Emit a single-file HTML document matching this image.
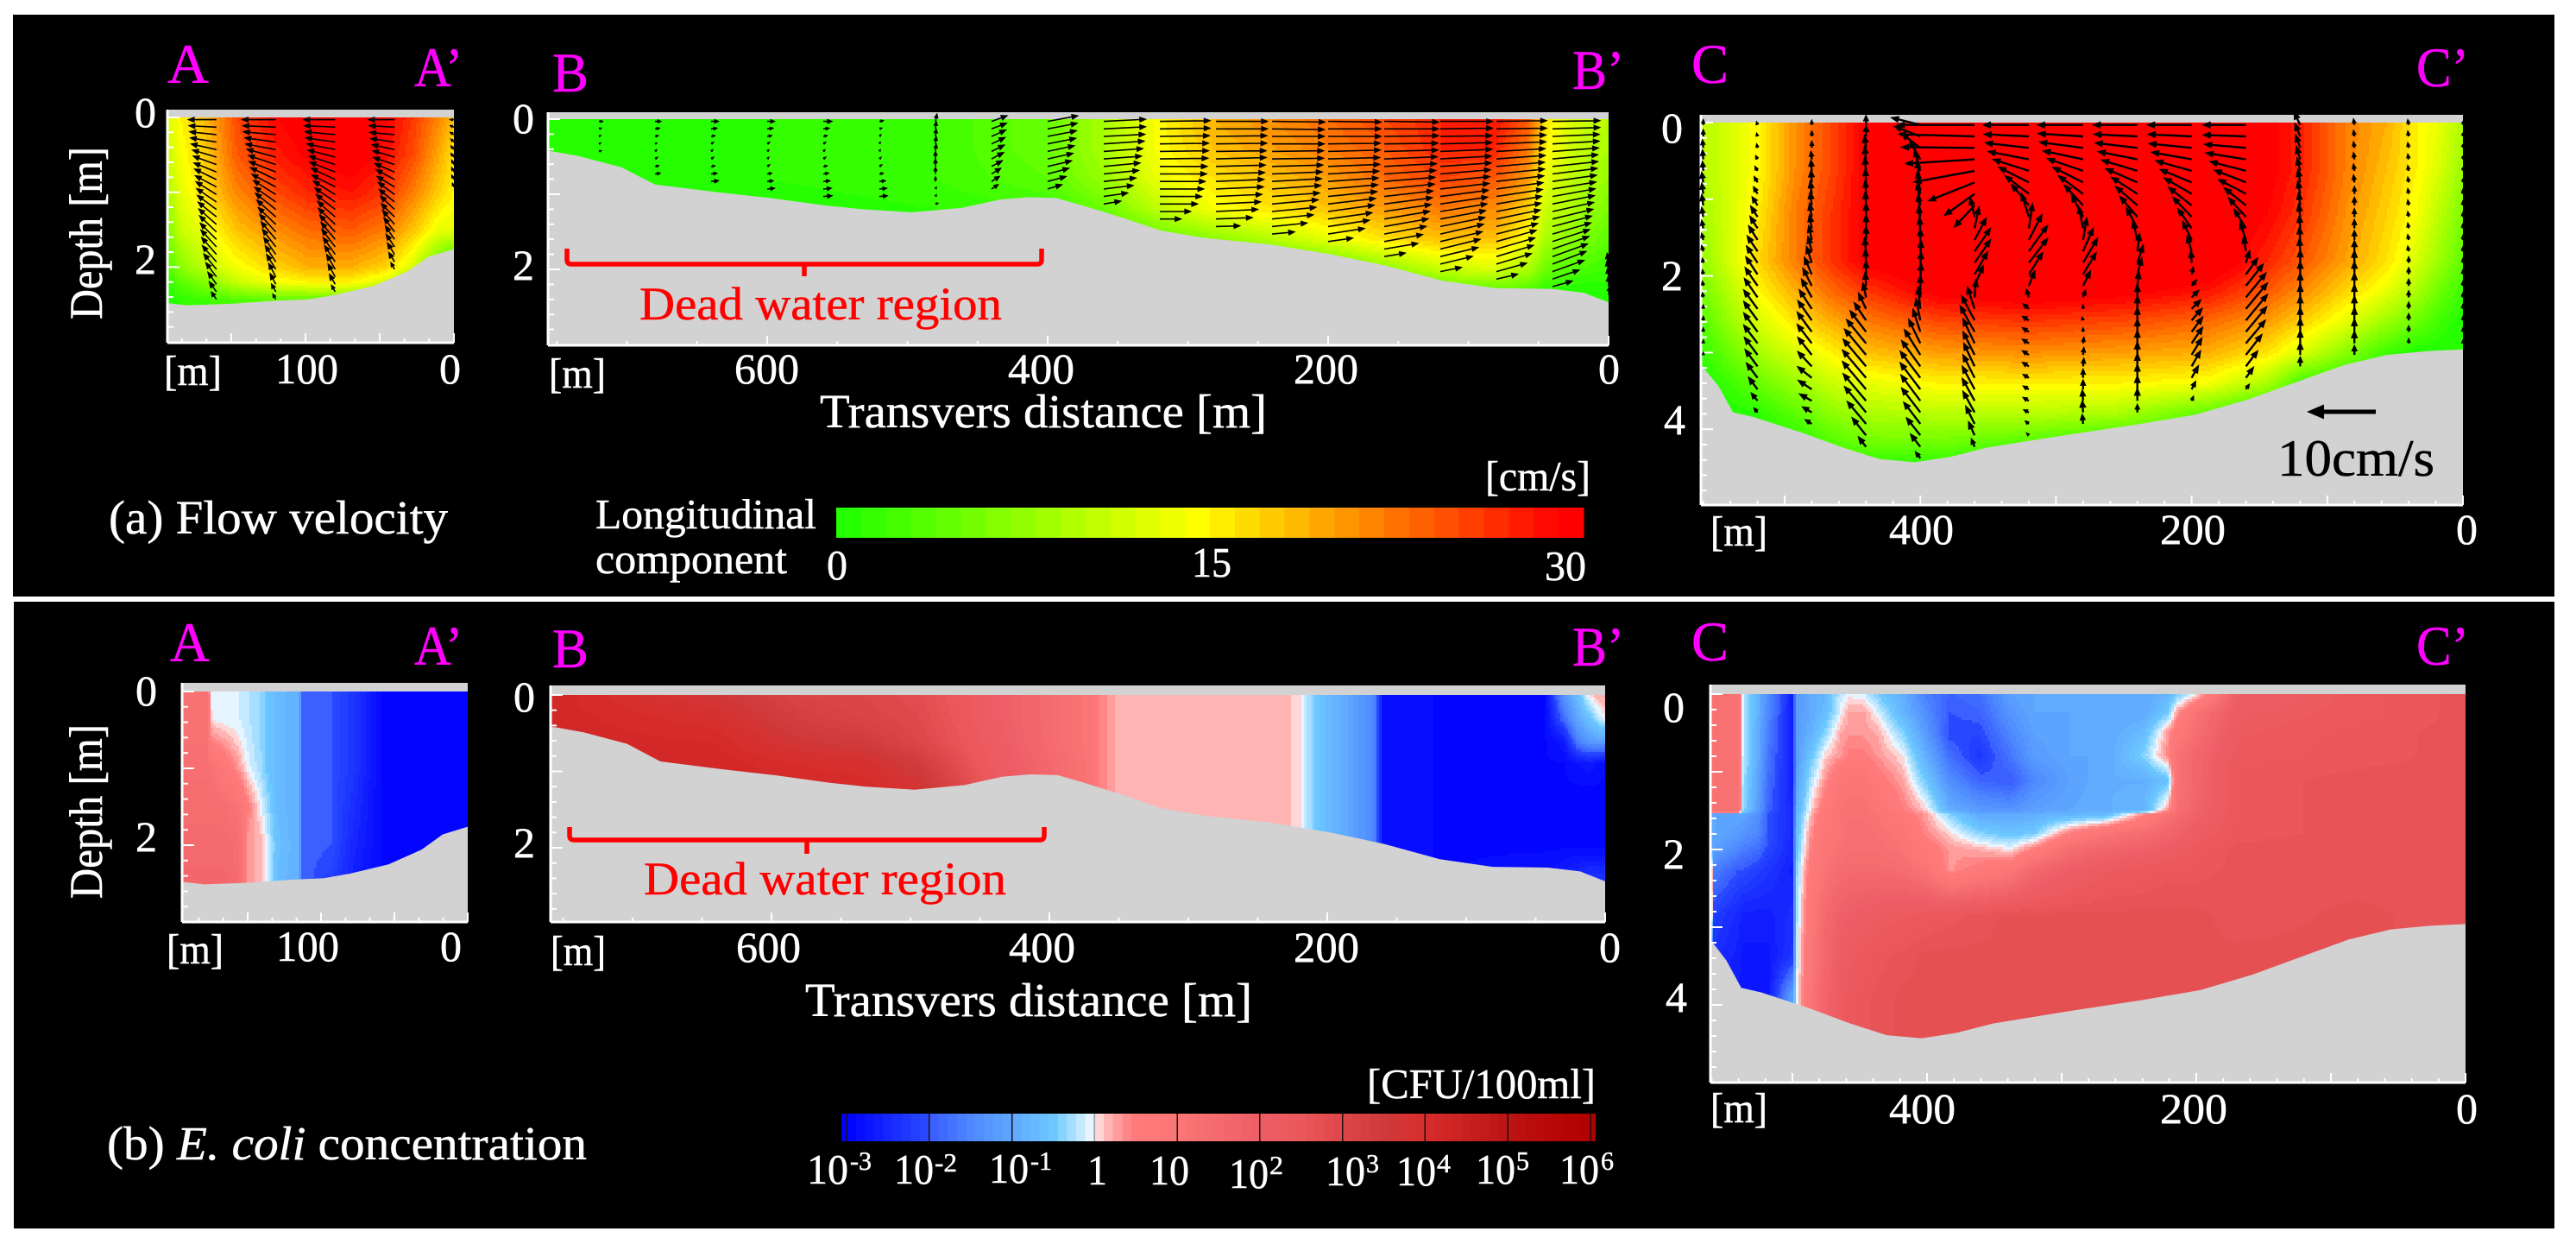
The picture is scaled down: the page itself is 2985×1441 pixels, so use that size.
<!DOCTYPE html>
<html lang="en">
<head>
<meta charset="utf-8">
<title>Flow velocity and E. coli concentration cross sections</title>
<style>
html,body{margin:0;padding:0;background:#fff;}
svg{display:block;}
text{font-family:"Liberation Serif","Times New Roman",serif;fill:#fff;stroke:#fff;stroke-width:.5px;}
.mag{fill:#ff00ff;stroke:#ff00ff;font-size:65px;}
.tick{font-size:50px;}
.title{font-size:55px;}
.red{fill:#ff0000;stroke:#ff0000;font-size:54px;}
.lab{font-size:54px;}
.small{font-size:49px;}
.sup{font-size:31px;}
</style>
</head>
<body>
<svg id="figure" xmlns="http://www.w3.org/2000/svg" width="2985" height="1441" viewBox="0 0 2985 1441">
<rect x="0" y="0" width="2985" height="1441" fill="#ffffff"/>
<rect x="15" y="17" width="2945" height="674" fill="#000000"/>
<rect x="16" y="697" width="2944" height="726" fill="#000000"/>
<g id="marks"></g>

<!-- Panel (a) text -->
<g>
<text class="mag" x="194" y="96" textLength="48" lengthAdjust="spacingAndGlyphs">A</text>
<text class="mag" x="480" y="100" textLength="56" lengthAdjust="spacingAndGlyphs">A’</text>
<text class="mag" x="640" y="106" textLength="42" lengthAdjust="spacingAndGlyphs">B</text>
<text class="mag" x="1822" y="103" textLength="60" lengthAdjust="spacingAndGlyphs">B’</text>
<text class="mag" x="1960" y="96" textLength="43" lengthAdjust="spacingAndGlyphs">C</text>
<text class="mag" x="2800" y="100" textLength="61" lengthAdjust="spacingAndGlyphs">C’</text>
<text class="lab" transform="translate(118,370) rotate(-90)" textLength="200" lengthAdjust="spacingAndGlyphs">Depth [m]</text>
<text class="tick" x="156" y="147" textLength="25" lengthAdjust="spacingAndGlyphs">0</text>
<text class="tick" x="156" y="317" textLength="25" lengthAdjust="spacingAndGlyphs">2</text>
<text class="tick" x="594" y="154" textLength="25" lengthAdjust="spacingAndGlyphs">0</text>
<text class="tick" x="594" y="324" textLength="25" lengthAdjust="spacingAndGlyphs">2</text>
<text class="tick" x="1925" y="165" textLength="25" lengthAdjust="spacingAndGlyphs">0</text>
<text class="tick" x="1925" y="336" textLength="25" lengthAdjust="spacingAndGlyphs">2</text>
<text class="tick" x="1928" y="503" textLength="25" lengthAdjust="spacingAndGlyphs">4</text>
<text class="small" x="190" y="446" textLength="67" lengthAdjust="spacingAndGlyphs">[m]</text>
<text class="tick" x="319" y="444" textLength="73" lengthAdjust="spacingAndGlyphs">100</text>
<text class="tick" x="509" y="444" textLength="25" lengthAdjust="spacingAndGlyphs">0</text>
<text class="small" x="636" y="449" textLength="66" lengthAdjust="spacingAndGlyphs">[m]</text>
<text class="tick" x="851" y="444" textLength="75" lengthAdjust="spacingAndGlyphs">600</text>
<text class="tick" x="1168" y="444" textLength="77" lengthAdjust="spacingAndGlyphs">400</text>
<text class="tick" x="1499" y="444" textLength="75" lengthAdjust="spacingAndGlyphs">200</text>
<text class="tick" x="1852" y="444" textLength="25" lengthAdjust="spacingAndGlyphs">0</text>
<text class="title" x="950" y="495" textLength="518" lengthAdjust="spacingAndGlyphs">Transvers distance [m]</text>
<text class="red" x="741" y="370" textLength="420" lengthAdjust="spacingAndGlyphs">Dead water region</text>
<path d="M657 288 v13 q0 5 5 5 H1202 q5 0 5 -5 v-13 M932 306 v14" fill="none" stroke="#ff0000" stroke-width="5.5"/>
<text class="title" x="126" y="618" textLength="393" lengthAdjust="spacingAndGlyphs">(a) Flow velocity</text>
<text class="small" x="690" y="612" textLength="256" lengthAdjust="spacingAndGlyphs">Longitudinal</text>
<text class="small" x="690" y="664" textLength="222" lengthAdjust="spacingAndGlyphs">component</text>
<text class="small" x="958" y="671" textLength="24" lengthAdjust="spacingAndGlyphs">0</text>
<text class="small" x="1381" y="668" textLength="46" lengthAdjust="spacingAndGlyphs">15</text>
<text class="small" x="1790" y="672" textLength="48" lengthAdjust="spacingAndGlyphs">30</text>
<text class="small" x="1721" y="568" textLength="122" lengthAdjust="spacingAndGlyphs">[cm/s]</text>
<text class="small" x="1982" y="632" textLength="66" lengthAdjust="spacingAndGlyphs">[m]</text>
<text class="tick" x="2189" y="630" textLength="75" lengthAdjust="spacingAndGlyphs">400</text>
<text class="tick" x="2503" y="630" textLength="76" lengthAdjust="spacingAndGlyphs">200</text>
<text class="tick" x="2846" y="630" textLength="25" lengthAdjust="spacingAndGlyphs">0</text>
<text style="fill:#000;stroke:#000;font-size:60px" x="2639" y="551" textLength="182" lengthAdjust="spacingAndGlyphs">10cm/s</text>
</g>

<!-- Panel (b) text -->
<g>
<text class="mag" x="197" y="766" textLength="46" lengthAdjust="spacingAndGlyphs">A</text>
<text class="mag" x="480" y="770" textLength="56" lengthAdjust="spacingAndGlyphs">A’</text>
<text class="mag" x="640" y="773" textLength="42" lengthAdjust="spacingAndGlyphs">B</text>
<text class="mag" x="1822" y="771" textLength="60" lengthAdjust="spacingAndGlyphs">B’</text>
<text class="mag" x="1960" y="765" textLength="43" lengthAdjust="spacingAndGlyphs">C</text>
<text class="mag" x="2800" y="770" textLength="61" lengthAdjust="spacingAndGlyphs">C’</text>
<text class="lab" transform="translate(118,1041) rotate(-90)" textLength="202" lengthAdjust="spacingAndGlyphs">Depth [m]</text>
<text class="tick" x="157" y="817" textLength="25" lengthAdjust="spacingAndGlyphs">0</text>
<text class="tick" x="157" y="986" textLength="25" lengthAdjust="spacingAndGlyphs">2</text>
<text class="tick" x="595" y="824" textLength="25" lengthAdjust="spacingAndGlyphs">0</text>
<text class="tick" x="595" y="993" textLength="25" lengthAdjust="spacingAndGlyphs">2</text>
<text class="tick" x="1927" y="836" textLength="25" lengthAdjust="spacingAndGlyphs">0</text>
<text class="tick" x="1927" y="1006" textLength="25" lengthAdjust="spacingAndGlyphs">2</text>
<text class="tick" x="1930" y="1172" textLength="25" lengthAdjust="spacingAndGlyphs">4</text>
<text class="small" x="193" y="1116" textLength="66" lengthAdjust="spacingAndGlyphs">[m]</text>
<text class="tick" x="320" y="1113" textLength="73" lengthAdjust="spacingAndGlyphs">100</text>
<text class="tick" x="510" y="1113" textLength="25" lengthAdjust="spacingAndGlyphs">0</text>
<text class="small" x="638" y="1118" textLength="64" lengthAdjust="spacingAndGlyphs">[m]</text>
<text class="tick" x="853" y="1114" textLength="75" lengthAdjust="spacingAndGlyphs">600</text>
<text class="tick" x="1169" y="1114" textLength="77" lengthAdjust="spacingAndGlyphs">400</text>
<text class="tick" x="1499" y="1114" textLength="76" lengthAdjust="spacingAndGlyphs">200</text>
<text class="tick" x="1853" y="1114" textLength="25" lengthAdjust="spacingAndGlyphs">0</text>
<text class="title" x="933" y="1177" textLength="518" lengthAdjust="spacingAndGlyphs">Transvers distance [m]</text>
<text class="red" x="746" y="1036" textLength="420" lengthAdjust="spacingAndGlyphs">Dead water region</text>
<path d="M660 958 v10 q0 5 5 5 H1205 q5 0 5 -5 v-10 M935 973 v16" fill="none" stroke="#ff0000" stroke-width="5.5"/>
<text class="title" x="124" y="1343" textLength="556" lengthAdjust="spacingAndGlyphs">(b) <tspan font-style="italic">E. coli</tspan> concentration</text>
<text class="small" x="1584" y="1272" textLength="265" lengthAdjust="spacingAndGlyphs">[CFU/100ml]</text>
<text class="small" x="1982" y="1300" textLength="66" lengthAdjust="spacingAndGlyphs">[m]</text>
<text class="tick" x="2189" y="1301" textLength="77" lengthAdjust="spacingAndGlyphs">400</text>
<text class="tick" x="2503" y="1301" textLength="78" lengthAdjust="spacingAndGlyphs">200</text>
<text class="tick" x="2846" y="1301" textLength="25" lengthAdjust="spacingAndGlyphs">0</text>
<g>
<text class="small" x="935" y="1371" textLength="48" lengthAdjust="spacingAndGlyphs">10</text><text class="sup" x="985" y="1355" textLength="25" lengthAdjust="spacingAndGlyphs">-3</text>
<text class="small" x="1036" y="1371" textLength="46" lengthAdjust="spacingAndGlyphs">10</text><text class="sup" x="1083" y="1357" textLength="26" lengthAdjust="spacingAndGlyphs">-2</text>
<text class="small" x="1146" y="1370" textLength="46" lengthAdjust="spacingAndGlyphs">10</text><text class="sup" x="1194" y="1355" textLength="25" lengthAdjust="spacingAndGlyphs">-1</text>
<text class="small" x="1260" y="1372" textLength="23" lengthAdjust="spacingAndGlyphs">1</text>
<text class="small" x="1332" y="1372" textLength="46" lengthAdjust="spacingAndGlyphs">10</text>
<text class="small" x="1424" y="1376" textLength="46" lengthAdjust="spacingAndGlyphs">10</text><text class="sup" x="1471" y="1360" textLength="16" lengthAdjust="spacingAndGlyphs">2</text>
<text class="small" x="1536" y="1373" textLength="46" lengthAdjust="spacingAndGlyphs">10</text><text class="sup" x="1583" y="1358" textLength="15" lengthAdjust="spacingAndGlyphs">3</text>
<text class="small" x="1618" y="1373" textLength="46" lengthAdjust="spacingAndGlyphs">10</text><text class="sup" x="1665" y="1358" textLength="16" lengthAdjust="spacingAndGlyphs">4</text>
<text class="small" x="1710" y="1371" textLength="46" lengthAdjust="spacingAndGlyphs">10</text><text class="sup" x="1757" y="1355" textLength="15" lengthAdjust="spacingAndGlyphs">5</text>
<text class="small" x="1807" y="1371" textLength="46" lengthAdjust="spacingAndGlyphs">10</text><text class="sup" x="1855" y="1355" textLength="15" lengthAdjust="spacingAndGlyphs">6</text>
</g>
</g>
</svg>

<script>
/* ---------- river bed profiles (distance m, depth m) ---------- */
const bedADist=[193,180,150,120,98,80,54,31.5,17,0];
const bedADepth=[2.48,2.51,2.49,2.45,2.43,2.37,2.25,2.06,1.86,1.76];
const bedBDist=[756,735,704,680,637,598,558,532,497,461,434,414,394,375,347,320,289,241,198,159,119,81,41,18,0];
const bedBDepth=[.42,.49,.64,.87,.97,1.05,1.15,1.2,1.24,1.18,1.07,1.04,1.05,1.15,1.31,1.48,1.58,1.67,1.8,1.95,2.15,2.25,2.26,2.31,2.44];
const bedCDist=[562,549,538,523,488,457,430,404,378,351,298,241,197,158,122,87,56,25.5,0];
const bedCDepth=[3.16,3.43,3.78,3.84,4.04,4.24,4.39,4.43,4.36,4.24,4.09,3.94,3.81,3.61,3.38,3.16,3.03,2.98,2.96];

/* ---------- longitudinal velocity, cm/s ---------- */
const velADist=[193,184,165,146,120,98,69,46,28,9,0];
const velADepth=[0,.5,1,1.5,2,2.2,2.45];
const velAValues=[
[12,15,19,25,29,30.5,31,29.5,26,21,18],
[11,14,18,24,27.5,29.5,30.5,28.5,25,19,16],
[9,13,17,21.5,25,27,28,26,22,17,15],
[6,11,14,18,21,23,24,22,18,13,13],
[3,7,11,14,17,19,19,17,12,3,0],
[1,4,7,11,14,15,15,12,6,0,0],
[0,1,2,3,4,4,4,2,0,0,0]];

const velBDist=[756,600,480,398,359,324,281,238,198,159,119,81,57,45,25,0];
const velBDepth=[0,.4,.8,1.2,1.6,2,2.3];
const velBValues=[
[0,1,2,5,9,14,19,21,23,25,27,28,24,16,12,10],
[0,1,2,5,9,14,18,20,22,24,27,27,22,15,11,9],
[0,1,2,4,8,13,16,18,20,23,25,24,20,13,10,8],
[0,0,1,2,5,10,14,16,18,20,22,21,17,11,9,6],
[0,0,0,0,1,4,7,10,13,16,18,18,14,9,7,4],
[0,0,0,0,0,0,0,1,3,7,11,12,9,5,3,2],
[0,0,0,0,0,0,0,0,0,1,3,4,3,1,0,0]];

const velCDist=[558,540,518,492,466,439,386,320,254,188,144,118,87,56,34,17,0];
const velCDepth=[0,.6,1.2,1.8,2.2,2.6,3,3.4,3.8,4.2,4.5];
const velCValues=[
[10,12,15,21,25,30,32,32,32,32,30,27,22,19,15,13,9],
[10,12,15,21,25,30,32,32,32,32,30,27,22,18,15,12,8],
[9,12,16,22,26,30,32,32,32,32,29,26,21,17,14,10,6],
[8,12,17,22,26,30,32,32,32,32,27,24,20,16,12,8,4],
[6,10,15,19,23,26,30,31,30,28,24,21,17,13,9,5,2],
[4,8,12,16,19,22,25,26,25,23,20,17,13,8,5,2,0],
[2,5,9,12,15,18,20,21,20,19,16,12,7,2,0,0,0],
[0,2,5,8,11,13,15,15,15,14,9,2,0,0,0,0,0],
[0,0,1,4,7,9,10,10,9,4,0,0,0,0,0,0,0],
[0,0,0,0,3,5,5,3,0,0,0,0,0,0,0,0,0],
[0,0,0,0,0,0,0,0,0,0,0,0,0,0,0,0,0]];

/* ---------- E. coli concentration, log10 CFU/100ml ---------- */
const ecoliADist=[192,178,175,172,165,156,150,141,135,130,115,113,93,78,59,0];
const ecoliADepth=[0,.35,.6,1,1.5,2,2.5];
const ecoliAValues=[
[1.2,1.2,-.05,-.1,-.1,-.1,-.2,-.35,-.6,-.7,-.9,-1.9,-2,-2.3,-2.9,-3],
[1.2,1.2,.05,-.05,-.1,-.1,-.2,-.35,-.6,-.7,-.9,-1.9,-2,-2.3,-2.9,-3],
[1.2,1.2,.4,.3,.2,0,-.15,-.35,-.6,-.7,-.9,-1.9,-2,-2.3,-2.9,-3],
[1.3,1.3,1.2,1.1,.7,.3,-.05,-.3,-.6,-.7,-.9,-1.9,-2,-2.3,-2.9,-3],
[1.4,1.4,1.4,1.4,1.3,1.1,.5,-.05,-.4,-.7,-.9,-1.9,-2,-2.4,-2.9,-3],
[1.5,1.5,1.5,1.5,1.5,1.4,.25,.2,-.2,-.6,-.9,-1.9,-2,-2.5,-2.9,-3],
[1.6,1.6,1.6,1.6,1.6,1.4,.25,.2,-.2,-.7,-.9,-1.9,-2.2,-2.6,-2.9,-3]];

const ecoliBDist=[760,640,580,534,494,447,384,368,364,352,228,224,218,209,190,166,160,120,43,30,20,12,5,0];
const ecoliBDepth=[0,.3,.6,.9,1.2,1.6,2,2.5];
const ecoliBValues=[
[4.2,3.6,3.1,3,2.8,2.2,1.2,1,.45,.2,.2,0,0,-.5,-.9,-1.5,-2.8,-2.9,-2.9,-1.3,-.7,0,.2,.25],
[4.2,3.9,3.3,3.1,2.9,2.2,1.2,1,.45,.2,.2,0,0,-.5,-.9,-1.5,-2.8,-2.9,-2.9,-1.8,-1,-.6,-.2,0],
[4.2,4.1,3.6,3.4,3,2.3,1.2,1,.45,.2,.2,0,0,-.5,-.9,-1.5,-2.8,-2.9,-2.9,-2.7,-1.6,-1.2,-1.1,-1.1],
[4.2,4.2,4,3.9,3.4,2.4,1.3,1,.45,.2,.2,0,0,-.5,-.9,-1.5,-2.8,-2.9,-2.9,-2.9,-2.8,-2.7,-2.8,-2.9],
[4.2,4.2,4.1,4.1,3.7,2.6,1.3,1,.45,.2,.2,0,0,-.5,-.9,-1.5,-2.8,-2.9,-2.9,-2.9,-2.9,-2.9,-2.9,-2.9],
[4.2,4.2,4.1,4.1,3.7,2.6,1.3,1,.45,.2,.2,0,0,-.5,-.9,-1.5,-2.8,-2.9,-2.9,-2.9,-2.9,-2.9,-2.9,-2.9],
[4.2,4.2,4.1,4.1,3.7,2.6,1.3,1,.45,.2,.2,0,0,-.5,-.9,-1.5,-2.8,-2.9,-2.9,-2.9,-2.9,-2.9,-2.9,-2.9],
[4.2,4.2,4.1,4.1,3.7,2.6,1.3,1,.45,.2,.2,0,0,-.5,-.9,-1.5,-2.8,-2.9,-2.8,-2.5,-2.3,-2.2,-2.2,-2.2]];

const ecoliCDist=[561,558,540,537,525,518,500,497,487,476,465,458,447,436,418,401,383,361,338,321,294,267,239,221,214,199,170,81,0];
const ecoliCDepth=[0,.24,.5,.79,1.11,1.5,1.55,1.79,2,2.26,2.84,3.37,3.89,4.47];
const ecoliCValues=[
[1.2,1.2,1.2,-.1,-.9,-1.4,-2.6,-1.2,-1,-.8,-.2,-.05,-.1,-.5,-.9,-1.6,-1.9,-1.8,-1.1,-1,-1,-1,-1,-.8,-.5,0,2,2.4,2.6],
[1.2,1.2,1.2,-.1,-.9,-1.5,-2.6,-1.2,-1,-.7,-.1,.25,.25,-.1,-.8,-1.4,-2,-1.9,-1.3,-1,-1,-1,-1,-.5,.3,1.2,2.2,2.4,2.6],
[1.2,1.2,1.2,-.1,-1,-1.6,-2.6,-1.2,-.9,-.4,.2,.3,.3,.2,-.4,-1.2,-2.1,-2.1,-1.5,-1.1,-1,-1,-.7,.3,.8,1.4,2.3,2.5,2.6],
[1.2,1.2,1.2,-.1,-1,-1.7,-2.6,-1.2,-.6,.05,.3,.5,.5,.3,0,-.9,-1.8,-2.3,-1.7,-1.2,-1,-1,-.4,.4,1.2,1.7,2.4,2.5,2.6],
[1.2,1.2,1.2,-.2,-1.1,-1.8,-2.6,-1.1,-.3,.3,.9,1,1,.6,.25,-.5,-1.4,-1.9,-2,-1.5,-1.1,-.9,-.9,-.6,1.2,1.7,2.5,2.6,2.6],
[1.2,1.2,1.2,-.3,-1.2,-1.9,-2.5,-.9,0,.7,1.1,1.2,1.2,1,.5,.1,-.9,-1.2,-1.3,-1.1,-1,-.9,-.8,.3,1.3,1.8,2.5,2.6,2.6],
[-1,-1,-1,-1,-1.4,-2,-2.5,-.8,.1,.8,1.1,1.2,1.2,1.1,.7,.25,-.4,-1,-1,-.9,-.8,-.7,.4,1.2,1.5,1.9,2.5,2.6,2.6],
[-1,-1,-1.2,-1.3,-1.5,-2,-2.5,-.7,.3,.9,1.1,1.3,1.3,1.2,1,.4,.05,-.4,-.6,-.5,.5,1.1,1.4,1.7,1.8,2.2,2.5,2.6,2.6],
[-1,-1.1,-1.5,-1.6,-1.8,-2.1,-2.5,-.6,.4,1,1.2,1.3,1.3,1.3,1.1,.7,.3,.2,0,.5,1.4,1.7,1.9,2.1,2.2,2.4,2.6,2.6,2.6],
[1.2,-1.6,-2,-2,-2.2,-2.3,-2.6,-.4,.6,1.1,1.4,1.5,1.5,1.5,1.4,1.1,.3,.6,.9,1.6,2,2.3,2.4,2.5,2.5,2.5,2.6,2.6,2.6],
[1.2,-2.2,-2.5,-2.6,-2.6,-2.6,-2.4,-.3,.8,1.5,1.9,2,2.1,2.2,2.3,2.4,2.5,2.6,2.7,2.7,2.7,2.7,2.7,2.7,2.7,2.7,2.6,2.7,2.6],
[-2.3,-2.4,-2.6,-2.7,-2.7,-2.7,-2.3,-.2,.9,1.6,2.1,2.3,2.4,2.5,2.6,2.7,2.7,2.7,2.7,2.7,2.7,2.7,2.7,2.7,2.7,2.7,2.7,2.7,2.6],
[-2.6,-2.6,-2.7,-2.7,-2.7,-2.7,-1.1,-.1,1,1.7,2.2,2.4,2.5,2.6,2.7,2.7,2.7,2.7,2.7,2.7,2.7,2.7,2.7,2.7,2.7,2.7,2.7,2.7,2.6],
[-2.6,-2.6,-2.7,-2.7,-2.7,-2.7,-1.1,-.1,1,1.7,2.2,2.4,2.5,2.6,2.7,2.7,2.7,2.7,2.7,2.7,2.7,2.7,2.7,2.7,2.7,2.7,2.7,2.7,2.6]];

/* ---------- transverse velocity arrows, cm/s (u rightward, w upward) ---------- */
const arrowAColumns=[0,40,80,120,160];
const arrowARows=[.03,.13,.23,.33,.43,.53,.63,.73,.83,.93,1.03,1.13,1.23,1.33,1.43,1.53,1.63,1.73,1.83,1.93,2.03,2.13,2.23,2.33,2.43];
const arrowAU=[
[-.5,-.5,-.5,-.4,-.4,-.4,-.3,-.3,-.3,-.2],
[-3.7,-3.6,-3.5,-3.4,-3.2,-3.1,-3,-2.8,-2.6,-2.5,-2.3,-2.2,-2,-1.9,-1.7,-1.5,-1.3,-1.2,-1,-.8,-.5],
[-4.5,-4.4,-4.3,-4.2,-4,-3.9,-3.7,-3.6,-3.4,-3.3,-3.1,-2.9,-2.7,-2.5,-2.4,-2.2,-2,-1.9,-1.7,-1.5,-1.2,-1,-.8,-.5],
[-4.8,-4.7,-4.6,-4.4,-4.3,-4.1,-3.9,-3.8,-3.6,-3.4,-3.2,-3,-2.9,-2.7,-2.5,-2.3,-2.1,-1.9,-1.7,-1.5,-1.3,-1,-.8,-.6,-.4],
[-4,-3.9,-3.8,-3.7,-3.6,-3.4,-3.3,-3.2,-3.1,-3,-2.9,-2.8,-2.7,-2.6,-2.5,-2.4,-2.3,-2.2,-2.1,-2,-1.8,-1.5,-1.2,-1,-.7]];
const arrowAW=[
[0,.2,.3,.4,.5,.5,.6,.6,.6,.5],
[0,.2,.3,.5,.7,.9,1,1.2,1.4,1.5,1.7,1.8,1.9,1.9,2,2,1.9,1.8,1.6,1.3,.9],
[0,.2,.4,.6,.8,1,1.2,1.4,1.6,1.7,1.9,2,2.1,2.2,2.3,2.4,2.4,2.5,2.4,2.3,2.1,1.8,1.4,.9],
[0,.2,.4,.6,.8,1.1,1.3,1.5,1.7,1.8,2,2.1,2.3,2.4,2.4,2.5,2.5,2.5,2.4,2.3,2.1,1.9,1.5,1.1,.7],
[0,.2,.4,.6,.8,1,1.2,1.3,1.5,1.6,1.8,1.9,2,2.1,2.2,2.3,2.3,2.4,2.4,2.3,2.2,2,1.7,1.4,1]];

const arrowBColumns=[0,40,80,120,160,200,240,280,320,360,400,440,480,520,560,600,640,680,720];
const arrowBRows=[.03,.13,.23,.33,.43,.53,.63,.73,.83,.93,1.03,1.13,1.23,1.33,1.43,1.53,1.63,1.73,1.83,1.93,2.03,2.13,2.23,2.33];
const arrowBU=[
[0,0,0,0,0,0,0,0,0,0,0,0,0,0,0,0,0,0,0,-.2,-.2,-.1,0,.1],
[6.8,6.8,6.7,6.7,6.6,6.5,6.5,6.4,6.3,6.2,6.1,6,5.9,5.8,5.6,5.5,5.3,5.2,5,4.8,4.5,3.8,2.8],
[7.2,7.2,7.1,7.1,7,7,6.9,6.9,6.8,6.7,6.6,6.5,6.4,6.3,6.1,5.9,5.7,5.5,5.3,5,4.3,3],
[7.5,7.5,7.4,7.4,7.4,7.3,7.3,7.2,7.1,7,6.9,6.8,6.7,6.5,6.4,6.2,6,5.7,5.4,4.6,3],
[7.8,7.8,7.8,7.7,7.7,7.6,7.5,7.4,7.3,7.2,7,6.9,6.7,6.5,6.3,6,5.5,4.8,3],
[7.6,7.6,7.6,7.5,7.5,7.4,7.4,7.3,7.2,7.1,7,6.8,6.6,6.3,5.9,5.2,3.5],
[7.6,7.5,7.5,7.5,7.4,7.4,7.3,7.2,7.1,7,6.8,6.6,6.3,5.9,5,3.2],
[7.4,7.4,7.3,7.3,7.2,7.2,7.1,7,6.9,6.8,6.6,6.4,6,5.2,3.4],
[7.2,7.2,7.1,7,7,6.9,6.8,6.7,6.5,6.3,6,5.4,4.4,3],
[6,6,5.9,5.8,5.6,5.4,5.2,5,4.6,4.2,3.4,2.4],
[4.3,4.2,4.1,4,3.8,3.6,3.4,3,2.6,2],
[2.2,2.1,2,1.9,1.8,1.7,1.5,1.3,1.1,.9],
[.2,.1,.1,.1,.1,0,0,0,0,.1,.1,.3],
[.5,.3,.2,.1,.1,.2,.3,.5,.8,1,1.1],
[1.2,.8,.5,.3,.2,.3,.5,.7,.9,1.1,1.2],
[1,.8,.6,.3,.2,.2,.3,.6,.8,1],
[1,.8,.5,.3,.2,.3,.5,.8,1],
[.8,.6,.4,.2,.2,.3,.5,.7],
[.5,.3,.2,.2,.3]];
const arrowBW=[
[0,0,0,0,0,0,0,0,0,0,0,0,0,0,0,0,0,0,0,1.5,1.6,1.6,1.5,1],
[.1,.2,.3,.4,.5,.6,.7,.8,.9,1,1.1,1.2,1.3,1.4,1.5,1.6,1.7,1.8,1.8,1.8,1.6,1.3,.8],
[.1,.1,.2,.3,.4,.5,.6,.7,.8,.9,1,1.1,1.2,1.3,1.4,1.5,1.6,1.6,1.6,1.5,1.2,.7],
[0,.1,.1,.2,.3,.4,.5,.6,.7,.8,.9,1,1.1,1.2,1.3,1.4,1.4,1.4,1.3,1.1,.6],
[-.1,0,.1,.1,.2,.3,.4,.5,.6,.7,.8,.9,1,1.1,1.1,1.1,1,.8,.5],
[-.1,0,0,.1,.2,.2,.3,.4,.5,.6,.7,.8,.9,.9,.9,.8,.5],
[-.1,-.1,0,0,.1,.1,.2,.3,.4,.5,.5,.6,.6,.6,.5,.3],
[0,0,.1,.1,.1,.2,.2,.2,.3,.3,.3,.3,.3,.2,.1],
[.1,.1,.1,.1,.1,.1,0,0,0,0,0,0,0,0],
[.3,.3,.3,.4,.4,.4,.5,.5,.5,.5,.5,.4],
[.8,.8,.8,.8,.8,.8,.8,.8,.7,.6],
[.8,.8,.9,.9,.9,.9,.8,.8,.7,.6],
[1,1,1,1,1,1,1,.9,.6,.2,.2,.1],
[.1,.1,.2,.2,.2,.2,.2,.1,.1,.1,.1],
[0,.1,.1,.2,.2,.2,.1,.1,.1,.1,.1],
[0,.1,.1,.2,.2,.2,.2,.1,.1,.1],
[0,.1,.1,.2,.2,.2,.1,.1,.1],
[0,.1,.1,.1,.2,.2,.1,.1],
[0,.1,.1,.1,.1]];

const arrowCColumns=[0,40,80,120,160,200,240,280,320,360,400,440,480,520,560];
const arrowCRows=[.03,.18,.33,.48,.63,.78,.93,1.08,1.23,1.38,1.53,1.68,1.83,1.98,2.13,2.28,2.43,2.58,2.73,2.88,3.03,3.18,3.33,3.48,3.63,3.78,3.93,4.08,4.23,4.38];
const arrowCU=[
[.1,.1,.1,.1,.1,.1,0,0,0,0,0,0,0,0,0,0,0,0,0,0],
[-.1,-.1,-.1,-.1,-.1,-.1,-.1,-.1,-.1,-.1,-.1,-.1,0,0,0,0,0,0,0,0],
[-.1,-.1,-.1,-.1,-.1,-.1,0,0,0,0,0,0,0,0,0,0,0,0,0,0,0],
[-.8,-.7,-.6,-.5,-.4,-.3,-.3,-.2,-.2,-.1,-.1,-.1,0,0,0,0,0,0,0,0,0,0],
[-6,-6,-5.8,-5.6,-5,-4.4,-3.8,-3,-2.4,-1.6,-.8,-.3,.5,1.6,2.4,2.8,3,3,2.9,2.7,2.2,1.6,1,.4],
[-6.2,-6.1,-6,-5.6,-5,-4.4,-3.8,-3.2,-2.6,-1.9,-1.2,-.6,-.1,.2,.6,.9,1.2,1.4,1.5,1.5,1.4,1.2,.9,.5,.2],
[-6.2,-6.1,-5.9,-5.5,-5,-4.4,-3.6,-3,-2.4,-1.5,-.6,.3,.8,.6,.2,0,0,0,0,0,0,0,0,0,0,0],
[-6.4,-6.3,-6.1,-5.6,-5,-4.2,-3.4,-2.6,-1.6,-.6,.5,1.4,2,1.8,1,.3,0,-.1,0,.1,.1,.1,0,0,-.1,-.1,-.1],
[-6.4,-6.3,-6.1,-5.7,-5,-4.2,-3.3,-2.4,-1,.5,1.8,2.6,2.6,1.9,.8,-.3,-.7,-.8,-.8,-.8,-.8,-.8,-.7,-.7,-.7,-.6,-.4,-.2],
[-11,-10.8,-10.4,-9.8,-8.6,-6.5,-4.2,-2.8,-.6,.6,1.6,2.2,2.2,1.8,1.2,.2,-1,-1.8,-2,-1.6,-1.6,-1.5,-1.6,-1.7,-1.7,-1.6,-1.2,-.8,-.4],
[-4,-3.6,-2.6,-1.5,-.8,-.5,-.4,-.4,-.3,-.2,-.1,0,.1,.1,.1,0,-.3,-.6,-1,-1.6,-2.2,-2.6,-2.8,-2.8,-2.7,-2.6,-2.3,-1.9,-1.3,-.6],
[0,0,-.2,-.2,-.2,-.1,-.1,-.1,0,0,0,-.2,-.1,0,-.1,-.4,-1,-1.6,-2.2,-2.7,-3,-3.2,-3.3,-3.3,-3.2,-3,-2.6,-1.9,-1],
[0,0,0,-.1,-.1,-.1,-.2,-.2,-.3,-.3,-.4,-.5,-.7,-1,-1.2,-1.4,-1.7,-1.9,-2,-2,-1.9,-1.9,-1.9,-1.8,-1.6,-1.2,-.8],
[-.1,-.1,-.1,-.2,-.3,-.4,-.5,-.7,-.9,-1,-1.2,-1.4,-1.5,-1.6,-1.7,-1.8,-1.9,-1.9,-1.9,-1.9,-1.8,-1.7,-1.5,-1.2,-.8,-.4],
[0,0,-.1,-.1,-.1,-.2,-.2,-.2,-.2,-.2,-.2,-.2,-.1,-.1,-.1,-.1,0,0,0,0,0]];
const arrowCW=[
[.5,.5,.5,.5,.5,.5,.5,.5,.5,.5,.5,.5,.5,.5,.5,.5,.5,.4,.4,.3],
[.6,.6,.6,.6,.6,.6,.6,.6,.6,.6,.6,.6,.7,.8,.8,.8,.8,.8,.7,.5],
[.7,.7,.7,.8,.8,.9,.9,1,1,1.1,1.2,1.4,1.6,1.7,1.7,1.7,1.7,1.7,1.7,1.6,1.2],
[1.7,1.7,1.7,1.7,1.7,1.7,1.7,1.7,1.7,1.7,1.7,1.7,1.7,1.7,1.7,1.7,1.7,1.7,1.8,1.7,1.6,1.2],
[0,.2,.5,.9,1.3,1.7,2,2.4,2.6,2.6,2.4,2,1.6,2.2,3,3.4,3.6,3.6,3.5,3.2,2.8,2.1,1.4,.6],
[0,.3,.6,1,1.4,1.8,2.2,2.5,2.7,2.7,2.5,2.1,1.6,.9,.7,.9,1.2,1.6,2,2.2,2.3,2.1,1.6,1,.5],
[0,.3,.7,1.1,1.5,1.9,2.3,2.6,2.8,2.8,2.6,2.4,2.4,2.2,1.9,1.7,1.7,1.7,1.7,1.7,1.7,1.7,1.8,1.8,1.6,1],
[0,.4,.8,1.2,1.7,2.1,2.5,2.8,3,3,3,3.2,3.4,3,2,.9,.4,.3,.4,.7,.9,1,1.1,1.2,1.4,1.5,1.2],
[0,.3,.7,1.1,1.6,2.1,2.5,2.9,3.2,3.4,3.5,3.6,3.4,3,2,1,.6,.5,.5,.5,.5,.5,.4,.4,.4,.3,.3,.2],
[0,.3,.1,-.6,-1.6,-2.6,-3,-3,2.6,2.9,3,3.2,3.2,3.1,2.8,2.4,3,3.4,3.6,3.4,3.2,3.2,3.2,3.2,3.1,2.9,2.4,1.8,1],
[1,1.4,2,2.6,2.9,3,3.1,3.1,3.1,3.1,3.1,3.1,3.1,3.1,3.1,3,3,3,3.1,3.3,3.5,3.6,3.7,3.7,3.6,3.4,3,2.4,1.7,.8],
[1.2,1.4,1.6,1.7,1.8,1.8,1.8,1.8,1.8,1.8,1.8,1.8,1.8,1.8,1.8,1.9,2.1,2.4,2.9,3.3,3.6,3.8,3.9,3.9,3.8,3.6,3.1,2.4,1.3],
[.5,.6,.8,1,1.4,1.6,1.7,1.8,1.8,1.8,1.9,2,2.2,2.3,2.4,2.5,2.6,2.7,2.7,2.6,2.4,2,1.5,1.2,.9,.7,.5],
[.3,.3,.4,.4,.5,.7,.9,1.1,1.4,1.6,1.9,2.1,2.3,2.4,2.5,2.6,2.6,2.6,2.6,2.5,2.4,2.3,2,1.6,1,.5],
[.6,.8,1,1.2,1.2,1.3,1.4,1.4,1.2,1,.8,.7,.5,.5,.5,.5,.4,.4,.4,.3,.2]];
const arrowScaleValue=[10];

/* ---------- axis ticks ---------- */
const depthMajorTicks=[0,1,2,3,4,5];
const depthMinorTicks=[.2,.4,.6,.8,1.2,1.4,1.6,1.8,2.2,2.4,2.6,2.8,3.2,3.4,3.6,3.8,4.2,4.4,4.6,4.8];
const distMajorTicksA=[0,50,100,150];
const distMinorTicksA=[16.7,33.3,66.7,83.3,116.7,133.3,166.7,183.3];
const distMajorTicksB=[0,200,400,600];
const distMinorTicksB=[50,100,150,250,300,350,450,500,550,650,700,750];
const distMajorTicksC=[0,100,200,300,400,500];
const distMinorTicksC=[20,40,60,80,120,140,160,180,220,240,260,280,320,340,360,380,420,440,460,480,520,540,560];

/* ---------- colour scales ---------- */
const velocityBarLevels=[0,1,2,3,4,5,6,7,8,9,10,11,12,13,14,15,16,17,18,19,20,21,22,23,24,25,26,27,28,29];
const ecoliStopValues=[-3,-2.05,-1.95,-1.5,-1,-.5,-.3,-.1,-.01,.01,.15,.3,.45,1,2,2.5,3,3.5,4,4.5,5,5.5,6];
const ecoliStopColors=['#0000ff','#2848ff','#3a5fff','#4d88ff','#5fa8ff','#6dc8ff','#a0dcff','#d8f0ff','#f4fbff','#ffe4e4','#ffb8b8','#ff9898','#ff7b7b','#fb7676','#ee5e66','#ea585c','#de4548','#d03a3a','#d82c2c','#c82020','#bb1414','#b80808','#b00000'];
const ecoliBarTicks=[-3,-2,-1,0,1,2,3,4,5,6];

const SVGNS='http://www.w3.org/2000/svg';
const marks=document.getElementById('marks');

function hexRgb(h){return [parseInt(h.slice(1,3),16),parseInt(h.slice(3,5),16),parseInt(h.slice(5,7),16)];}
const ecoliStopRgb=ecoliStopColors.map(hexRgb);

function velocityColor(v){
  const q=Math.max(0,Math.min(29.5,Math.floor(v)+.5));
  let r,g;
  if(q<14.5){r=30+225*q/14.5;g=255;}
  else{r=255;g=255*(1-(q-14.5)/14.5);}
  return 'rgb('+Math.round(r)+','+Math.max(0,Math.round(g))+',0)';
}
function ecoliColor(v){
  const q=Math.max(-3,Math.min(6,(Math.floor(v*9)+.5)/9));
  let i=0;
  while(i<ecoliStopValues.length-2&&q>ecoliStopValues[i+1])i++;
  const t=(q-ecoliStopValues[i])/(ecoliStopValues[i+1]-ecoliStopValues[i]);
  const a=ecoliStopRgb[i],b=ecoliStopRgb[i+1];
  return 'rgb('+Math.round(a[0]+(b[0]-a[0])*t)+','+Math.round(a[1]+(b[1]-a[1])*t)+','+Math.round(a[2]+(b[2]-a[2])*t)+')';
}
function locate(arr,val){
  const n=arr.length;
  const asc=arr[n-1]>arr[0];
  if(asc?val<=arr[0]:val>=arr[0])return [0,0];
  if(asc?val>=arr[n-1]:val<=arr[n-1])return [n-2,1];
  for(let i=0;i<n-1;i++){
    const a=arr[i],b=arr[i+1];
    if(asc?(val>=a&&val<=b):(val<=a&&val>=b))return [i,(val-a)/(b-a)];
  }
  return [n-2,1];
}
function bedAt(dists,depths,d){
  const l=locate(dists,d);
  return depths[l[0]]+(depths[l[0]+1]-depths[l[0]])*l[1];
}
function makeAxes(left,right,top,bottom,surface,pxPerMetre,pxPerDepth){
  return {left:left,right:right,top:top,bottom:bottom,surface:surface,
    x:function(d){return right-d*pxPerMetre;},
    y:function(z){return surface+z*pxPerDepth;},
    dist:function(px){return (right-px)/pxPerMetre;},
    depth:function(py){return (py-surface)/pxPerDepth;}};
}
function makeGroup(parent,name){
  const g=document.createElementNS(SVGNS,'g');
  
  
  parent.appendChild(g);
  return g;
}
function drawField(ax,name,dists,depths,values,colorFn,bedDist,bedDepth){
  const g=makeGroup(marks,name);
  g.setAttribute('shape-rendering','crispEdges');
  const step=3;
  for(let py=ax.surface;py<ax.bottom;py+=step){
    const z=ax.depth(py+step/2);
    const lz=locate(depths,z);
    let runStart=-1,runColor=null;
    const flush=function(end){
      if(runColor!==null){
        const r=document.createElementNS(SVGNS,'rect');
        
        
        r.setAttribute('x',runStart);
        r.setAttribute('y',py);
        r.setAttribute('width',end-runStart);
        r.setAttribute('height',step);
        r.setAttribute('fill',runColor);
        g.appendChild(r);
      }
    };
    for(let px=ax.left;px<ax.right;px+=step){
      const d=ax.dist(px+step/2);
      let c=null;
      if(z<=bedAt(bedDist,bedDepth,d)+.05){
        const ld=locate(dists,d);
        const a=values[lz[0]][ld[0]],b=values[lz[0]][ld[0]+1];
        const e=values[lz[0]+1][ld[0]],f=values[lz[0]+1][ld[0]+1];
        const top=a+(b-a)*ld[1],bot=e+(f-e)*ld[1];
        c=colorFn(top+(bot-top)*lz[1]);
      }
      if(c!==runColor){flush(px);runStart=px;runColor=c;}
    }
    flush(ax.right);
  }
}
function drawBed(ax,name,bedDist,bedDepth){
  const band=document.createElementNS(SVGNS,'rect');
  
  
  band.setAttribute('x',ax.left);
  band.setAttribute('y',ax.top);
  band.setAttribute('width',ax.right-ax.left);
  band.setAttribute('height',ax.surface-ax.top);
  band.setAttribute('fill','#d2d2d2');
  marks.appendChild(band);
  const pts=[ax.left+','+ax.bottom];
  const l0=ax.y(bedAt(bedDist,bedDepth,ax.dist(ax.left)));
  pts.push(ax.left+','+l0.toFixed(1));
  for(let i=0;i<bedDist.length;i++){
    const px=Math.max(ax.left,ax.x(bedDist[i]));
    pts.push(px.toFixed(1)+','+ax.y(bedDepth[i]).toFixed(1));
  }
  pts.push(ax.right+','+ax.bottom);
  const poly=document.createElementNS(SVGNS,'polygon');
  
  
  poly.setAttribute('points',pts.join(' '));
  poly.setAttribute('fill','#d2d2d2');
  marks.appendChild(poly);
}
const arrowPxPerUnit=8;
function drawArrows(ax,name,cols,rows,U,W,strokeWidth){
  const g=makeGroup(marks,name);
  for(let c=0;c<cols.length;c++){
    const x0=ax.x(cols[c]);
    for(let r=0;r<U[c].length;r++){
      const dx=U[c][r]*arrowPxPerUnit,dy=-W[c][r]*arrowPxPerUnit;
      const len=Math.hypot(dx,dy);
      if(len<.5)continue;
      const y0=ax.y(rows[r]);
      const ux=dx/len,uy=dy/len;
      const hl=Math.min(6,len*.45),hw=Math.min(2.4,len*.2);
      const hx=x0+dx,hy=y0+dy;
      const bx=hx-ux*hl,by=hy-uy*hl;
      const p=document.createElementNS(SVGNS,'path');
      
      
      p.setAttribute('d','M'+x0.toFixed(1)+' '+y0.toFixed(1)+'L'+bx.toFixed(1)+' '+by.toFixed(1)+
        'M'+hx.toFixed(1)+' '+hy.toFixed(1)+'L'+(bx-uy*hw).toFixed(1)+' '+(by+ux*hw).toFixed(1)+'L'+(bx+uy*hw).toFixed(1)+' '+(by-ux*hw).toFixed(1)+'Z');
      p.setAttribute('stroke','#000');
      p.setAttribute('stroke-width',strokeWidth);
      p.setAttribute('fill','#000');
      g.appendChild(p);
    }
  }
}
function tickLine(g,name,x1,y1,x2,y2,w){
  const l=document.createElementNS(SVGNS,'line');
  
  
  l.setAttribute('x1',x1);l.setAttribute('y1',y1);l.setAttribute('x2',x2);l.setAttribute('y2',y2);
  l.setAttribute('stroke','#ffffff');
  l.setAttribute('stroke-width',w);
  g.appendChild(l);
}
function drawAxes(ax,name,xMajor,xMinor){
  const g=makeGroup(marks,name);
  tickLine(g,'y-axis-line',ax.left,ax.top,ax.left,ax.bottom,3);
  tickLine(g,'x-axis-line',ax.left,ax.bottom,ax.right,ax.bottom,3);
  depthMajorTicks.forEach(function(v){
    const y=ax.y(v);
    if(y<ax.bottom-2)tickLine(g,'y-major-tick',ax.left,y,ax.left+14,y,2);
  });
  depthMinorTicks.forEach(function(v){
    const y=ax.y(v);
    if(y<ax.bottom-2)tickLine(g,'y-minor-tick',ax.left,y,ax.left+7,y,2);
  });
  xMajor.forEach(function(v){
    const x=ax.x(v);
    if(x>ax.left)tickLine(g,'x-major-tick',x,ax.bottom,x,ax.bottom-11,2);
  });
  xMinor.forEach(function(v){
    const x=ax.x(v);
    if(x>ax.left)tickLine(g,'x-minor-tick',x,ax.bottom,x,ax.bottom-5,2);
  });
}

/* panel axes */
const axVelA=makeAxes(194,526,127,397,136,1.72,86.7);
const axVelB=makeAxes(635,1864,130,400,138,1.625,87);
const axVelC=makeAxes(1971,2854,133,585,142,1.572,88.8);
const axEcoA=makeAxes(211,542,791,1068,801,1.70,89);
const axEcoB=makeAxes(638,1860,794,1068,805,1.61,88.5);
const axEcoC=makeAxes(1982,2857,793,1254,804,1.56,90);

drawField(axVelA,'velocity-field-a',velADist,velADepth,velAValues,velocityColor,bedADist,bedADepth);
drawBed(axVelA,'velocity-a',bedADist,bedADepth);
drawAxes(axVelA,'velocity-a-axes',distMajorTicksA,distMinorTicksA);
drawArrows(axVelA,'velocity-arrows-a',arrowAColumns,arrowARows,arrowAU,arrowAW,1.6);

drawField(axVelB,'velocity-field-b',velBDist,velBDepth,velBValues,velocityColor,bedBDist,bedBDepth);
drawBed(axVelB,'velocity-b',bedBDist,bedBDepth);
drawAxes(axVelB,'velocity-b-axes',distMajorTicksB,distMinorTicksB);
drawArrows(axVelB,'velocity-arrows-b',arrowBColumns,arrowBRows,arrowBU,arrowBW,1.6);

drawField(axVelC,'velocity-field-c',velCDist,velCDepth,velCValues,velocityColor,bedCDist,bedCDepth);
drawBed(axVelC,'velocity-c',bedCDist,bedCDepth);
drawAxes(axVelC,'velocity-c-axes',distMajorTicksC,distMinorTicksC);
drawArrows(axVelC,'velocity-arrows-c',arrowCColumns,arrowCRows,arrowCU,arrowCW,2.4);

drawField(axEcoA,'ecoli-field-a',ecoliADist,ecoliADepth,ecoliAValues,ecoliColor,bedADist,bedADepth);
drawBed(axEcoA,'ecoli-a',bedADist,bedADepth);
drawAxes(axEcoA,'ecoli-a-axes',distMajorTicksA,distMinorTicksA);

drawField(axEcoB,'ecoli-field-b',ecoliBDist,ecoliBDepth,ecoliBValues,ecoliColor,bedBDist,bedBDepth);
drawBed(axEcoB,'ecoli-b',bedBDist,bedBDepth);
drawAxes(axEcoB,'ecoli-b-axes',distMajorTicksB,distMinorTicksB);

drawField(axEcoC,'ecoli-field-c',ecoliCDist,ecoliCDepth,ecoliCValues,ecoliColor,bedCDist,bedCDepth);
drawBed(axEcoC,'ecoli-c',bedCDist,bedCDepth);
drawAxes(axEcoC,'ecoli-c-axes',distMajorTicksC,distMinorTicksC);

/* velocity colour bar */
(function(){
  const g=makeGroup(marks,'velocity-colorbar');
  g.setAttribute('shape-rendering','crispEdges');
  const barX=function(v){return 969+v*866/30;};
  velocityBarLevels.forEach(function(v){
    const r=document.createElementNS(SVGNS,'rect');
    
    
    r.setAttribute('x',barX(v).toFixed(1));
    r.setAttribute('y',588);
    r.setAttribute('width',(barX(v+1)-barX(v)+.5).toFixed(1));
    r.setAttribute('height',35);
    r.setAttribute('fill',velocityColor(v));
    g.appendChild(r);
  });
})();

/* E. coli colour bar */
(function(){
  const g=makeGroup(marks,'ecoli-colorbar');
  g.setAttribute('shape-rendering','crispEdges');
  const barX=function(v){return 981+(v+3)*862/9;};
  for(let b=-28;b<=54;b++){
    const v0=b/9;
    const r=document.createElementNS(SVGNS,'rect');
    
    
    r.setAttribute('x',barX(v0).toFixed(1));
    r.setAttribute('y',1290);
    r.setAttribute('width',(barX(v0+1/9)-barX(v0)+.5).toFixed(1));
    r.setAttribute('height',32);
    r.setAttribute('fill',ecoliColor(v0+.01));
    g.appendChild(r);
  }
  ecoliBarTicks.forEach(function(v){
    const l=document.createElementNS(SVGNS,'line');
    
    
    l.setAttribute('x1',barX(v));l.setAttribute('x2',barX(v));
    l.setAttribute('y1',1290);l.setAttribute('y2',1322);
    l.setAttribute('stroke',v===0?'#999999':'#201010');
    l.setAttribute('stroke-width',1.5);
    g.appendChild(l);
  });
  const clip=document.createElementNS(SVGNS,'rect');
  
  
  clip.setAttribute('x',1849);clip.setAttribute('y',1288);
  clip.setAttribute('width',30);clip.setAttribute('height',36);
  clip.setAttribute('fill','#000');
  g.appendChild(clip);
  const clipLeft=document.createElementNS(SVGNS,'rect');
  
  
  clipLeft.setAttribute('x',960);clipLeft.setAttribute('y',1288);
  clipLeft.setAttribute('width',15);clipLeft.setAttribute('height',36);
  clipLeft.setAttribute('fill','#000');
  g.appendChild(clipLeft);
})();

/* arrow scale legend */
(function(){
  const len=arrowScaleValue[0]*arrowPxPerUnit;
  const tailX=2753,y=477;
  const hx=tailX-len;
  const p=document.createElementNS(SVGNS,'polygon');
  
  
  p.setAttribute('points',tailX+','+(y-2.5)+' '+(hx+20)+','+(y-2.5)+' '+(hx+20)+','+(y-8.5)+' '+hx+','+y+' '+(hx+20)+','+(y+8.5)+' '+(hx+20)+','+(y+2.5)+' '+tailX+','+(y+2.5));
  p.setAttribute('fill','#000');
  marks.appendChild(p);
})();
</script>
</body>
</html>
